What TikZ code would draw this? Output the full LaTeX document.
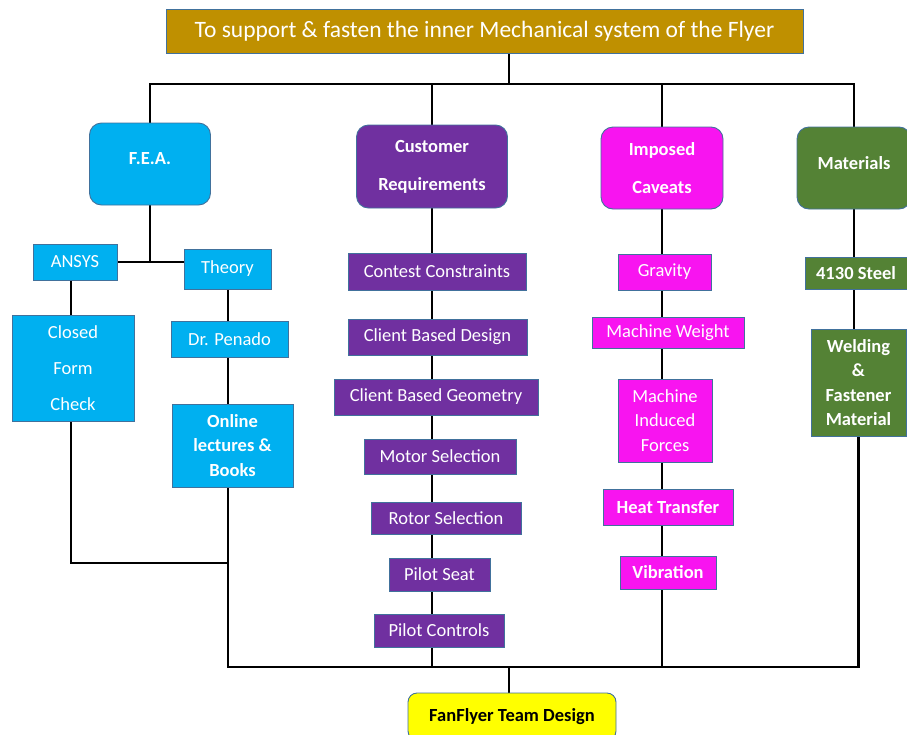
\documentclass[tikz,border=0pt]{standalone}
\usepackage{fontspec}
\setmainfont{Carlito}
\usetikzlibrary{backgrounds}
\definecolor{goldc}{HTML}{BF9000}
\definecolor{cyanc}{HTML}{00B0F0}
\definecolor{purpc}{HTML}{7030A0}
\definecolor{magc}{HTML}{F814F0}
\definecolor{greenc}{HTML}{548235}
\definecolor{yelc}{HTML}{FFFF00}
\definecolor{edgec}{HTML}{41719C}
\tikzset{
  bx/.style={rectangle, draw=edgec, line width=0.9pt, inner sep=0pt, text=white, align=center,
    font=\fontsize{18.5}{22}\selectfont},
  rbx/.style={bx, rounded corners=12pt},
  conn/.style={line width=2.4pt, black},
}
\begin{document}
\begin{tikzpicture}[x=1pt,y=-1pt]
\useasboundingbox (0,0) rectangle (907,734);
\clip (0,0) rectangle (907,734);
% top
\node[bx, fill=goldc, minimum width=637pt, minimum height=44pt, font=\fontsize{23.5}{26}\selectfont] (top) at (484.5,31) {To support \& fasten the inner Mechanical system of the Flyer};
% level 1
\node[rbx, fill=cyanc, minimum width=121pt, minimum height=82pt, font=\bfseries\fontsize{18.5}{22}\selectfont, text depth=12pt] (fea) at (150,164) {F.E.A.};
\node[rbx, fill=purpc, minimum width=151pt, minimum height=83pt, font=\bfseries\fontsize{18.5}{38}\selectfont] (cust) at (432,166.5) {Customer\\Requirements};
\node[rbx, fill=magc, minimum width=122pt, minimum height=82pt, font=\bfseries\fontsize{18.5}{38}\selectfont] (imp) at (662,168) {Imposed\\Caveats};
\node[rbx, fill=greenc, minimum width=114pt, minimum height=82pt, font=\bfseries\fontsize{18.5}{22}\selectfont, text depth=10pt] (mat) at (854,168) {Materials};
% FEA children
\node[bx, fill=cyanc, minimum width=84pt, minimum height=36pt] (ansys) at (75,262) {ANSYS};
\node[bx, fill=cyanc, minimum width=87pt, minimum height=40pt] (theory) at (227.5,269) {Theory};
\node[bx, fill=cyanc, minimum width=122pt, minimum height=106pt, font=\fontsize{18.5}{36}\selectfont] (closed) at (73,368) {Closed\\Form\\Check};
\node[bx, fill=cyanc, minimum width=117pt, minimum height=36pt] (penado) at (229.5,339) {Dr. Penado};
\node[bx, fill=cyanc, minimum width=121pt, minimum height=83pt, font=\bfseries\fontsize{18.5}{24.5}\selectfont] (online) at (232.5,445.5) {Online\\lectures \&\\Books};
% Customer children
\node[bx, fill=purpc, minimum width=178pt, minimum height=37pt] (cc) at (437,271.5) {Contest Constraints};
\node[bx, fill=purpc, minimum width=179pt, minimum height=36pt] (cbd) at (437.5,337) {Client Based Design};
\node[bx, fill=purpc, minimum width=204pt, minimum height=36pt] (cbg) at (436,397) {Client Based Geometry};
\node[bx, fill=purpc, minimum width=152pt, minimum height=35pt] (motor) at (440,456.5) {Motor Selection};
\node[bx, fill=purpc, minimum width=150pt, minimum height=32pt] (rotor) at (446,518) {Rotor Selection};
\node[bx, fill=purpc, minimum width=101pt, minimum height=33pt] (seat) at (439.5,574.5) {Pilot Seat};
\node[bx, fill=purpc, minimum width=130pt, minimum height=33pt] (ctrl) at (439,630.5) {Pilot Controls};
% Imposed children
\node[bx, fill=magc, minimum width=93pt, minimum height=36pt] (grav) at (664.5,272) {Gravity};
\node[bx, fill=magc, minimum width=152pt, minimum height=31pt] (mw) at (668,332.5) {Machine Weight};
\node[bx, fill=magc, minimum width=94pt, minimum height=83pt, font=\fontsize{18.5}{24.5}\selectfont] (mif) at (665,420.5) {Machine\\Induced\\Forces};
\node[bx, fill=magc, minimum width=130pt, minimum height=36pt, font=\bfseries\fontsize{18.5}{22}\selectfont] (heat) at (668,507) {Heat Transfer};
\node[bx, fill=magc, minimum width=96pt, minimum height=33pt, font=\bfseries\fontsize{18.5}{22}\selectfont] (vib) at (668,572.5) {Vibration};
% Materials children
\node[bx, fill=greenc, minimum width=102pt, minimum height=32pt, font=\bfseries\fontsize{18.5}{22}\selectfont] (steel) at (856,273) {4130 Steel};
\node[bx, fill=greenc, minimum width=95pt, minimum height=107pt, font=\bfseries\fontsize{18.5}{24.5}\selectfont] (weld) at (858.5,382.5) {Welding\\\&\\Fastener\\Material};
% bottom
\node[rbx, fill=yelc, minimum width=208pt, minimum height=47pt, text=black, font=\bfseries\fontsize{18.5}{22}\selectfont, rounded corners=9pt] (fan) at (512,716.5) {FanFlyer Team Design};
% coordinates
\coordinate (tb) at (509,84);
\coordinate (bb) at (509,667);
\coordinate (jc) at (228,563);
\begin{scope}[on background layer]
% top bus
\draw[conn] (top.south -| tb) -- (tb);
\draw[conn] (fea.north) -- (fea.north |- tb) -- (mat.north |- tb) -- (mat.north);
\draw[conn] (cust.north |- tb) -- (cust.north);
\draw[conn] (imp.north |- tb) -- (imp.north);
% FEA branch
\draw[conn] (fea.south) -- (fea.south |- ansys.east);
\draw[conn] (ansys.east) -- (ansys.east -| theory.west);
\draw[conn] (ansys.south -| 71,0) -- (closed.north -| 71,0);
\draw[conn] (closed.south -| 71,0) -- (jc -| 71,0) -- (jc);
\draw[conn] (theory.south -| jc) -- (penado.north -| jc);
\draw[conn] (penado.south -| jc) -- (online.north -| jc);
\draw[conn] (online.south -| jc) -- (bb -| jc) -- (bb -| weld.south) -- (weld.south);
% customer column
\draw[conn] (cust.south) -- (cust.south |- ctrl.north);
\draw[conn] (ctrl.south -| cust.south) -- (bb -| cust.south);
% imposed column
\draw[conn] (imp.south) -- (imp.south |- vib.north);
\draw[conn] (vib.south -| imp.south) -- (bb -| imp.south);
% materials column
\draw[conn] (mat.south) -- (steel.north -| mat.south);
\draw[conn] (steel.south -| mat.south) -- (weld.north -| mat.south);
% to FanFlyer
\draw[conn] (bb) -- (bb |- fan.north);
\end{scope}
\end{tikzpicture}
\end{document}
